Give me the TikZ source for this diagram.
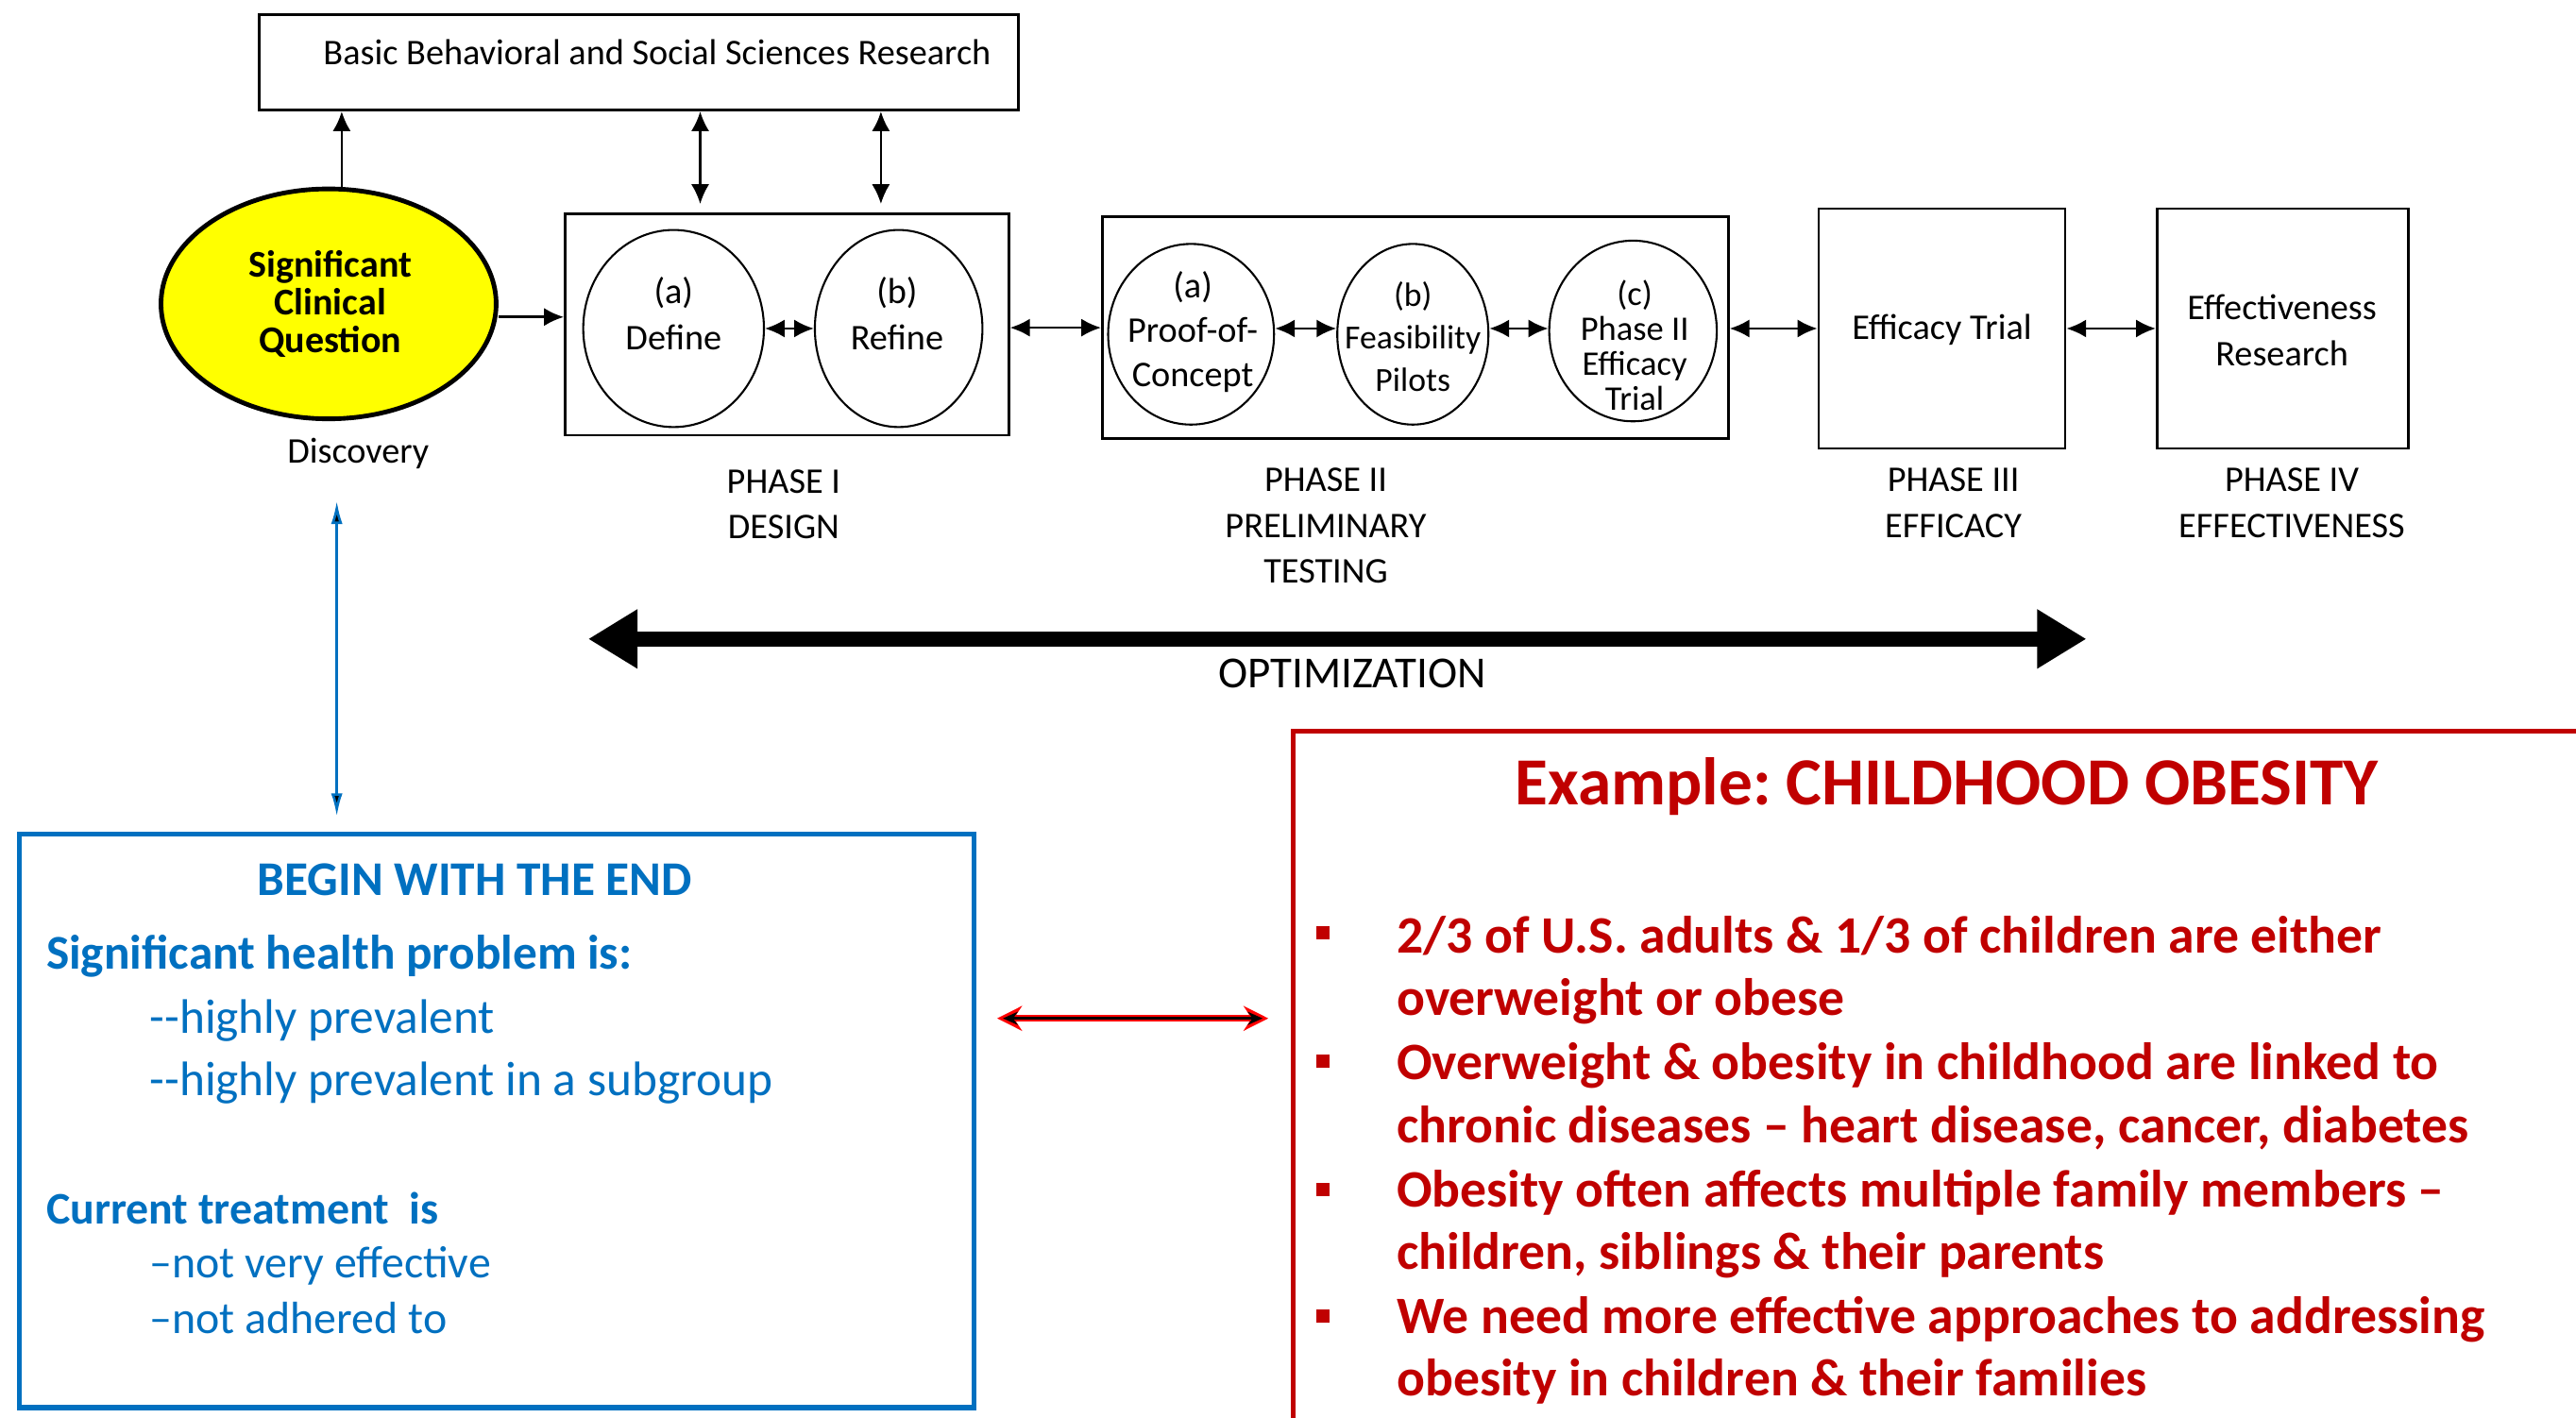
\documentclass[tikz,border=0pt]{standalone}
\usepackage{fontspec}
\setmainfont{Carlito}
\usetikzlibrary{arrows.meta,shapes.geometric,calc}
\definecolor{myblue}{HTML}{0070C0}
\definecolor{myred}{HTML}{C00000}
\definecolor{myyellow}{HTML}{FFFF00}
\newcommand{\fs}[2]{\fontsize{#1}{#2}\selectfont}
\frenchspacing
\begin{document}
\begin{tikzpicture}[x=1pt,y=-1pt,
 txt/.style={inner sep=0pt, align=center, font=\fs{22}{28}},
 box/.style={draw, line width=1.6pt, inner sep=0pt},
 circ/.style={draw, ellipse, line width=1.2pt, inner sep=0pt},
 arr/.style={line width=1.5pt, {Latex[length=12pt,width=11pt]}-{Latex[length=12pt,width=11pt]}},
 sarr/.style={line width=1.5pt, -{Latex[length=12pt,width=11pt]}},
 bl/.style={myblue, inner sep=0pt, anchor=base west, font=\fs{29.5}{36}},
 blb/.style={bl, font=\bfseries\fs{29.5}{36}},
 bls/.style={bl, font=\fs{27.5}{34}},
 rd/.style={myred, inner sep=0pt, anchor=base west, font=\bfseries\fs{32}{38}},
 bul/.style={fill=myred, minimum size=8pt, inner sep=0pt}
]
\useasboundingbox (0,0) rectangle (1568,863);
\fill[white] (0,0) rectangle (1568,863);

% top research box
\node[box, minimum width=462pt, minimum height=58pt] (bbs) at (389,38) {};
\node[txt] (bbst) at (400,32) {Basic Behavioral and Social Sciences Research};

% significant clinical question
\node[ellipse, draw, fill=myyellow, line width=2.8pt, minimum width=204pt, minimum height=140pt, inner sep=0pt] (sq) at (200,185) {};
\node[txt, font=\bfseries\fs{23}{23}] (sqt) at (201,185) {Significant\\Clinical\\Question};
\node[txt] (disc) at (218,276) {Discovery};

% phase I
\node[box, minimum width=270pt, minimum height=135pt] (p1) at (479,197.5) {};
\node[circ, minimum width=110pt, minimum height=120pt] (def) at (410,200) {};
\node[circ, minimum width=102pt, minimum height=120pt] (ref) at (547,200) {};
\node[txt] (deft) at (410,191) {(a)\\Define};
\node[txt] (reft) at (546,191) {(b)\\Refine};
\node[txt] (p1l) at (477,307) {PHASE I\\DESIGN};

% phase II
\node[box, minimum width=381pt, minimum height=135pt] (p2) at (861.5,199.5) {};
\node[circ, minimum width=101pt, minimum height=110pt] (poc) at (725,203.5) {};
\node[circ, minimum width=92pt, minimum height=110pt] (feas) at (860,203.5) {};
\node[circ, minimum width=102pt, minimum height=110pt] (eff2) at (994,201.5) {};
\node[txt, font=\fs{22}{27}] (poct) at (726,202) {(a)\\Proof-of-\\Concept};
\node[txt, font=\fs{20.5}{26}] (feast) at (860,205) {(b)\\Feasibility\\Pilots};
\node[txt, font=\fs{21}{21.3}] (eff2t) at (995,210) {(c)\\Phase II\\Efficacy\\Trial};
\node[txt] (p2l) at (807,320) {PHASE II\\PRELIMINARY\\TESTING};

% phase III, IV
\node[box, minimum width=150pt, minimum height=146pt] (p3) at (1182,200) {};
\node[txt] (p3t) at (1182,201) {Efficacy Trial};
\node[txt] (p3l) at (1189,306) {PHASE III\\EFFICACY};
\node[box, minimum width=153pt, minimum height=146pt] (p4) at (1389.5,200) {};
\node[txt] (p4t) at (1389,201) {Effectiveness\\Research};
\node[txt] (p4l) at (1395,306) {PHASE IV\\EFFECTIVENESS};

% connectors top
\coordinate (a0) at ([yshift=-8pt]sq.east);
\draw[sarr] (a0) -- (a0 -| p1.west);
\coordinate (a1) at ([xshift=8pt]sq.north);
\draw[sarr] (a1) -- (a1 |- bbs.south);
\coordinate (t1) at ([xshift=83pt,yshift=5pt]p1.north west);
\coordinate (t2) at ([xshift=193pt,yshift=5pt]p1.north west);
\draw[arr] (t1) -- (t1 |- bbs.south);
\draw[arr] (t2) -- (t2 |- bbs.south);
\draw[arr] (def.east) -- (ref.west);
\coordinate (b1) at ([yshift=-2pt]p1.east);
\draw[arr] (b1) -- (b1 -| p2.west);
\draw[arr] (poc.east |- 0,200) -- (feas.west |- 0,200);
\draw[arr] (feas.east |- 0,200) -- (eff2.west |- 0,200);
\draw[arr] (p2.east |- 0,200) -- (p3.west |- 0,200);
\draw[arr] (p3.east) -- (p4.west);

% optimization
\coordinate (opl) at (358,389);
\coordinate (opr) at (1270,389);
\draw[line width=9pt, {Triangle[length=30pt,width=34pt]}-{Triangle[length=30pt,width=34pt]}] (opl) -- (opr);
\node[txt, font=\fs{27}{30}] (opt) at (823,410) {OPTIMIZATION};

% blue arrow
\coordinate (ba1) at (205,305);
\coordinate (ba2) at (205,497);
\draw[myblue, line width=1.5pt, {Latex[length=14pt,width=7pt,fill=black]}-{Latex[length=14pt,width=7pt,fill=black]}] (ba1) -- (ba2);

% blue box
\node[draw=myblue, line width=3pt, minimum width=581pt, minimum height=349pt, inner sep=0pt] (bbox) at (302.5,682.5) {};
\node[blb, anchor=base] (bt) at (289,545) {BEGIN WITH THE END};
\node[blb] (bl1) at (28,590) {Significant health problem is:};
\node[bl] (bl2) at (91,629) {-{}-highly prevalent};
\node[bl] (bl3) at (91,667) {-{}-highly prevalent in a subgroup};
\node[blb, font=\bfseries\fs{27.5}{34}] (bl4) at (28,745) {Current treatment\ \ is};
\node[bls] (bl5) at (91,778) {–not very effective};
\node[bls] (bl6) at (91,812) {–not adhered to};

% red arrow
\coordinate (ra1) at (607,620);
\coordinate (ra2) at (772,620);
\draw[red, line width=4pt, {Stealth[length=15pt,width=15pt]}-{Stealth[length=15pt,width=15pt]}] (ra1) -- (ra2);
\draw[black, line width=1.6pt, {Stealth[length=9pt,width=8pt]}-{Stealth[length=9pt,width=8pt]}] ([xshift=3.5pt]ra1) -- ([xshift=-3.5pt]ra2);

% red box
\draw[myred, line width=3pt] (1575,445) -- (787,445) -- (787,870);
\node[rd, anchor=base, font=\bfseries\fs{41}{46}] (rt) at (1185,490) {Example: CHILDHOOD OBESITY};
\node[bul] (u1) at (805,568) {};
\node[bul] (u2) at (805,646) {};
\node[bul] (u3) at (805,724) {};
\node[bul] (u4) at (805,801) {};
\node[rd] (r1) at (850,580) {2/3 of U.S. adults \& 1/3 of children are either};
\node[rd] (r2) at (850,618) {overweight or obese};
\node[rd] (r3) at (850,657) {Overweight \& obesity in childhood are linked to};
\node[rd] (r4) at (850,696) {chronic diseases – heart disease, cancer, diabetes};
\node[rd] (r5) at (850,735) {Obesity often affects multiple family members –};
\node[rd] (r6) at (850,773) {children, siblings \& their parents};
\node[rd] (r7) at (850,812) {We need more effective approaches to addressing};
\node[rd] (r8) at (850,850) {obesity in children \& their families};
\end{tikzpicture}
\end{document}
